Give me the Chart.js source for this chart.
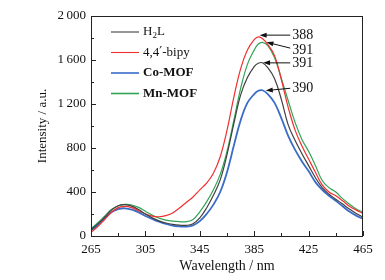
<!DOCTYPE HTML>
<html>
<head>
  <meta charset="UTF-8">
  <script src="https://cdn.jsdelivr.net/npm/chart.js"></script>
  <style>
    html, body { margin: 0; padding: 0; background: #fff; }
    .chart-container { width: 385px; height: 280px; }
  </style>
</head>
<body>
  <div class="chart-container">
    <canvas id="spectraChart" width="385" height="280"></canvas>
  </div>

<script>
  // wavelengths (nm)
  const wavelengths = [265, 270, 275, 280, 285, 290, 295, 300, 305, 310, 315, 320, 325, 330, 335, 340,
    345, 350, 355, 360, 365, 370, 375, 380, 385, 388, 391, 395, 400, 405, 410, 415, 420, 425, 430,
    435, 440, 445, 450, 455, 460, 465];

  const h2l = [55, 110, 170, 235, 275, 285, 272, 240, 200, 165, 138, 118, 105, 98, 97, 112,
    165, 255, 370, 510, 740, 1020, 1280, 1440, 1540, 1570, 1575, 1530, 1430, 1240, 1010, 870, 750, 640, 530,
    440, 380, 335, 290, 245, 205, 172];
  const bipy = [35, 85, 150, 215, 258, 270, 258, 230, 200, 180, 175, 185, 210, 255, 305, 355,
    420, 480, 570, 720, 960, 1260, 1520, 1690, 1785, 1810, 1795, 1740, 1640, 1420, 1170, 965, 820, 700, 580,
    465, 400, 365, 320, 270, 235, 205];
  const coMof = [50, 100, 160, 215, 245, 252, 240, 215, 182, 155, 130, 110, 95, 88, 85, 96,
    135, 200, 285, 400, 580, 820, 1050, 1210, 1290, 1320, 1325, 1290, 1210, 1070, 910, 785, 680, 590, 490,
    420, 365, 320, 270, 222, 185, 158];
  const mnMof = [68, 120, 180, 240, 275, 287, 282, 260, 225, 190, 162, 145, 135, 130, 130, 150,
    220, 310, 420, 560, 770, 1050, 1340, 1560, 1690, 1745, 1760, 1730, 1620, 1430, 1230, 1035, 880, 770, 640,
    505, 440, 400, 340, 290, 245, 218];

  const seriesNames = ['H_2L', '4,4\u2032-bipy', 'Co-MOF', 'Mn-MOF'];
  const seriesColors = ['#404040', '#f03030', '#3a6cc8', '#32a456'];

  // peak labels and arrows (data coords)
  const peakLabels = ['388', '391', '391', '390'];
  const labelValues = [1826, 1692, 1572, 1342];
  const arrowTipX = [389, 394, 391.5, 393.5];
  const arrowTipY = [1826, 1762, 1574, 1322];
  const arrowTailX = 411.5;
  const arrowTailY = [1826, 1708, 1574, 1343];

  const serif = "'Liberation Serif', 'DejaVu Serif', serif";

  function toPoints(ys) {
    return wavelengths.map((x, i) => ({ x: x, y: ys[i] }));
  }

  function drawArrow(ctx, x1, y1, x2, y2) {
    const a = Math.atan2(y2 - y1, x2 - x1);
    ctx.beginPath();
    ctx.moveTo(x1, y1);
    ctx.lineTo(x2 - 5 * Math.cos(a), y2 - 5 * Math.sin(a));
    ctx.stroke();
    ctx.beginPath();
    ctx.moveTo(x2, y2);
    ctx.lineTo(x2 - 7 * Math.cos(a) + 2.5 * Math.sin(a), y2 - 7 * Math.sin(a) - 2.5 * Math.cos(a));
    ctx.lineTo(x2 - 7 * Math.cos(a) - 2.5 * Math.sin(a), y2 - 7 * Math.sin(a) + 2.5 * Math.cos(a));
    ctx.closePath();
    ctx.fill();
  }

  // draws a legend label; "_" marks a subscript char, the prime uses DejaVu Serif
  function drawLabel(ctx, text, x, y, bold) {
    const base = (bold ? 'bold ' : '') + '13px ';
    let sub = false;
    for (const ch of text) {
      if (ch === '_') { sub = true; continue; }
      if (sub) {
        ctx.font = '9px ' + serif;
        ctx.fillText(ch, x, y + 4);
        sub = false;
      } else if (ch === '\u2032') {
        ctx.font = base + "'DejaVu Serif'";
        ctx.fillText(ch, x, y);
      } else {
        ctx.font = base + serif;
        ctx.fillText(ch, x, y);
      }
      x += ctx.measureText(ch).width;
    }
  }

  const decorations = {
    id: 'decorations',
    afterDatasetsDraw(chart) {
      const ctx = chart.ctx;
      const area = chart.chartArea;
      const xs = chart.scales.x, ys = chart.scales.y;
      ctx.save();

      // frame
      ctx.strokeStyle = '#222';
      ctx.lineWidth = 1;
      ctx.strokeRect(Math.round(area.left) + 0.5, Math.round(area.top) + 0.5,
        Math.round(area.right - area.left) - 1, Math.round(area.bottom - area.top));

      // inward ticks
      xs.ticks.forEach(t => {
        const px = Math.round(xs.getPixelForValue(t.value)) + 0.5;
        const len = t.label ? 5 : 3;
        ctx.beginPath();
        ctx.moveTo(px, area.bottom);
        ctx.lineTo(px, area.bottom - len);
        ctx.stroke();
      });
      ys.ticks.forEach(t => {
        const py = Math.round(ys.getPixelForValue(t.value)) + 0.5;
        const len = t.label ? 5 : 3;
        ctx.beginPath();
        ctx.moveTo(area.left, py);
        ctx.lineTo(area.left + len, py);
        ctx.stroke();
      });

      // legend
      seriesNames.forEach((name, i) => {
        const y = 32 + i * 20.5;
        const bold = i >= 2;
        ctx.strokeStyle = seriesColors[i];
        ctx.lineWidth = bold ? 1.6 : 1.1;
        ctx.beginPath();
        ctx.moveTo(111, y);
        ctx.lineTo(139, y);
        ctx.stroke();
        ctx.fillStyle = '#111';
        ctx.textBaseline = 'middle';
        ctx.textAlign = 'left';
        drawLabel(ctx, name, 143, y, bold);
      });

      // peak arrows and labels
      ctx.strokeStyle = '#111';
      ctx.fillStyle = '#111';
      ctx.lineWidth = 1;
      peakLabels.forEach((lab, i) => {
        drawArrow(ctx, xs.getPixelForValue(arrowTailX), ys.getPixelForValue(arrowTailY[i]),
          xs.getPixelForValue(arrowTipX[i]), ys.getPixelForValue(arrowTipY[i]));
        ctx.font = '14px ' + serif;
        ctx.textAlign = 'left';
        ctx.textBaseline = 'middle';
        ctx.fillText(lab, xs.getPixelForValue(arrowTailX) + 2, ys.getPixelForValue(labelValues[i]));
      });
      ctx.restore();
    }
  };

  const datasets = [h2l, bipy, coMof, mnMof].map((ys, i) => ({
    label: seriesNames[i],
    data: toPoints(ys),
    borderColor: seriesColors[i],
    borderWidth: i === 2 ? 1.8 : 1.2,
    pointRadius: 0,
    tension: 0.4,
    fill: false
  }));

  new Chart(document.getElementById('spectraChart').getContext('2d'), {
    type: 'line',
    data: { datasets: datasets },
    options: {
      responsive: false,
      animation: false,
      layout: { padding: { top: 16, right: 22, left: 0, bottom: 0 } },
      plugins: { legend: { display: false }, tooltip: { enabled: false } },
      scales: {
        x: {
          type: 'linear',
          min: 265,
          max: 465,
          afterFit: s => { s.height = 44; },
          grid: { display: false, drawTicks: false },
          border: { display: false },
          ticks: {
            stepSize: 20,
            padding: 6,
            color: '#111',
            font: { family: serif, size: 13 },
            maxRotation: 0,
            autoSkip: false,
            callback: v => ((v - 265) % 40 === 0 ? String(v) : '')
          },
          title: {
            display: true,
            text: 'Wavelength / nm',
            color: '#111',
            font: { family: serif, size: 14 },
            padding: { bottom: 5 }
          }
        },
        y: {
          min: 0,
          max: 2000,
          afterFit: s => { s.width = 91; },
          grid: { display: false, drawTicks: false },
          border: { display: false },
          ticks: {
            stepSize: 200,
            padding: 5,
            color: '#111',
            font: { family: serif, size: 13 },
            autoSkip: false,
            callback: v => (v % 400 === 0 ? (v >= 1000 ? Math.floor(v / 1000) + '\u2009' + String(v % 1000).padStart(3, '0') : String(v)) : '')
          },
          title: {
            display: true,
            text: 'Intensity / a.u.',
            color: '#111',
            font: { family: serif, size: 13 },
            padding: { top: 35 }
          }
        }
      }
    },
    plugins: [decorations]
  });
</script>
</body>
</html>
